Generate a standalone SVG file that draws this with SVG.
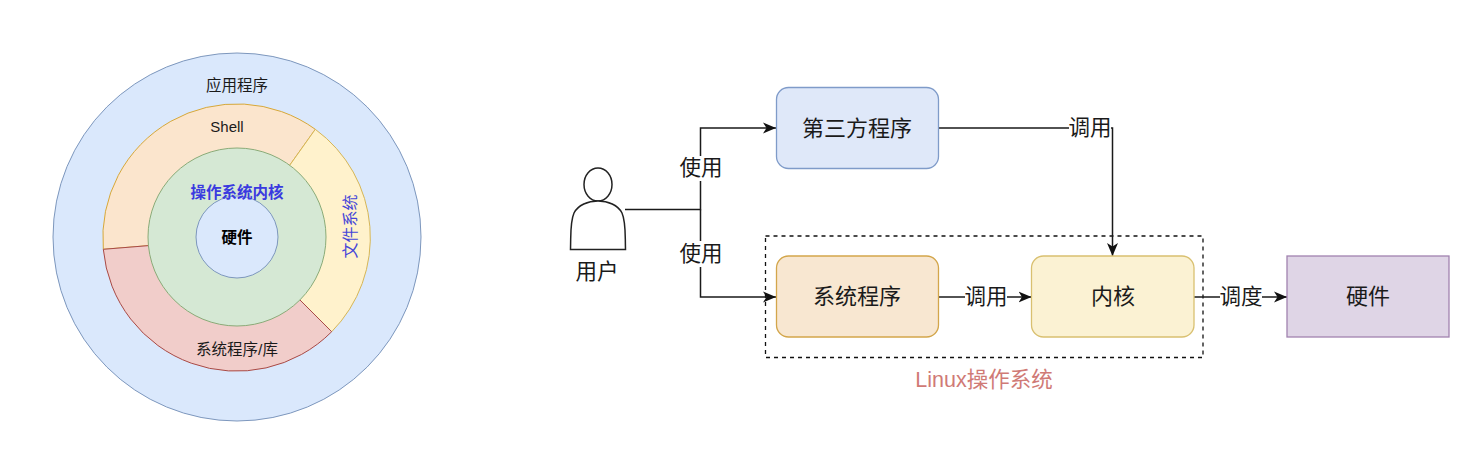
<svg xmlns="http://www.w3.org/2000/svg" width="1484" height="452" viewBox="0 0 1484 452">
<style>
text{font-family:"Liberation Sans","Noto Sans CJK SC",sans-serif;fill:#1a1a1a;text-anchor:middle;dominant-baseline:central}
.l{font-size:15.500px}
.m{font-size:21.500px}
.b{font-size:22px}
.box{stroke-width:1.300}
.conn{fill:none;stroke:#1a1a1a;stroke-width:1.500}
.lab{fill:#fff;stroke:none}
</style>
<defs><marker id="arr" markerUnits="userSpaceOnUse" markerWidth="14" markerHeight="12" refX="13" refY="6" orient="auto"><path d="M0 0.500L13 6L0 11.500L3.500 6Z" fill="#111"/></marker></defs>
<rect width="1484" height="452" fill="#fff"/>
<g id="onion">
<g id="app"><circle cx="237" cy="237" r="184" fill="#dae8fc" stroke="#7d97bd"/><text class="l" x="237" y="85.500">应用程序</text></g>
<g id="shell"><path d="M315.300 129.300A134 134 0 0 0 103.300 249.300L152.400 245.300L287.400 168.500Z" fill="#fbe5cd" stroke="#d6a83a"/><text x="227" y="126" style="font-size:15px">Shell</text></g>
<g id="fs"><path d="M315.300 129.300A134 134 0 0 1 331.700 331.700L297.100 297.100L287.400 168.500Z" fill="#fff2cc" stroke="#d6b656"/><text x="350" y="226.500" style="font-size:16px;fill:#4646d8" transform="rotate(-90 350 226.500)">文件系统</text></g>
<g id="lib"><path d="M103.300 249.300A134 134 0 0 0 331.700 331.700L297.100 297.100L152.400 245.300Z" fill="#f1cdca" stroke="#a84a46"/><text class="l" x="237" y="349.500">系统程序/库</text></g>
<g id="kernel-ring"><circle cx="237" cy="237" r="89" fill="#d5e8d4" stroke="#8aab78"/></g>
<g id="hw-core"><circle cx="237" cy="237" r="41" fill="#dae8fc" stroke="#7d97bd"/></g>
<text class="l" x="237" y="192" style="font-weight:700;fill:#3a3ae0">操作系统内核</text>
<text class="l" x="237" y="237.500" style="font-weight:700;fill:#000">硬件</text>
</g>
<g id="linux-group"><rect x="765.500" y="236" width="437.500" height="121.500" fill="none" stroke="#111" stroke-width="1.300" stroke-dasharray="4 4"/><text x="984" y="380" style="font-size:21.500px;fill:#d07a76">Linux操作系统</text></g>
<g id="connectors">
<path class="conn" d="M625 209.500H700.500V128H776" marker-end="url(#arr)"/>
<path class="conn" d="M700.500 209.500V297H776" marker-end="url(#arr)"/>
<path class="conn" d="M939 128H1112.500V256" marker-end="url(#arr)"/>
<path class="conn" d="M939 297H1031.500" marker-end="url(#arr)"/>
<path class="conn" d="M1194 297H1287" marker-end="url(#arr)"/>
<rect class="lab" x="680" y="156" width="42" height="25"/><text class="m" x="701" y="168">使用</text>
<rect class="lab" x="680" y="241" width="42" height="26"/><text class="m" x="701" y="254">使用</text>
<rect class="lab" x="1069" y="116" width="42" height="25"/><text class="m" x="1090" y="128">调用</text>
<rect class="lab" x="965" y="285" width="42" height="25"/><text class="m" x="986" y="297">调用</text>
<rect class="lab" x="1220" y="285" width="42" height="25"/><text class="m" x="1241" y="297">调度</text>
</g>
<g id="user"><ellipse cx="598" cy="184.500" rx="14" ry="16.500" fill="#fff" stroke="#222" stroke-width="1.500"/><path d="M570.500 249.500C571 233 570 222 574 213C578 205 588 201 598 201C608 201 618 205 622 213C626 222 625 233 625.500 249.500Z" fill="#fff" stroke="#222" stroke-width="1.500"/><text class="m" x="597" y="272">用户</text></g>
<g id="third"><rect class="box" x="776.500" y="87.500" width="162" height="81" rx="12" fill="#dfe8f9" stroke="#7f9bc9"/><text class="b" x="857" y="128">第三方程序</text></g>
<g id="sys"><rect class="box" x="776.500" y="256" width="162" height="81" rx="12" fill="#f8e7d1" stroke="#d3a64b"/><text class="b" x="857" y="296.500">系统程序</text></g>
<g id="kernel"><rect class="box" x="1031.500" y="256" width="162.500" height="81" rx="12" fill="#fbf2d3" stroke="#d9c070"/><text class="b" x="1113" y="296.500">内核</text></g>
<g id="hardware"><rect class="box" x="1287" y="256" width="162" height="81" fill="#dfd5e6" stroke="#a183b0"/><text class="b" x="1368" y="296.500">硬件</text></g>
</svg>
